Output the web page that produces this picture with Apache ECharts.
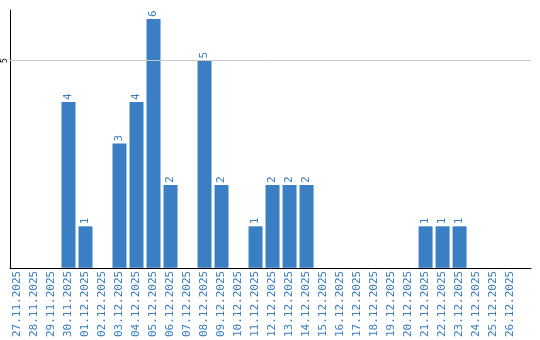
<!DOCTYPE html>
<html><head><meta charset="utf-8">
<script src="https://cdn.jsdelivr.net/npm/echarts@6/dist/echarts.min.js"></script>
<style>html,body{margin:0;padding:0;background:#fff}#c{width:540px;height:340px}</style>
</head><body><div id="c"></div>
<script>
const categories = ['27.11.2025','28.11.2025','29.11.2025','30.11.2025','01.12.2025','02.12.2025','03.12.2025','04.12.2025','05.12.2025','06.12.2025','07.12.2025','08.12.2025','09.12.2025','10.12.2025','11.12.2025','12.12.2025','13.12.2025','14.12.2025','15.12.2025','16.12.2025','17.12.2025','18.12.2025','19.12.2025','20.12.2025','21.12.2025','22.12.2025','23.12.2025','24.12.2025','25.12.2025','26.12.2025'];
const values = [0,0,0,4,1,0,3,4,6,2,0,5,2,0,1,2,2,2,0,0,0,0,0,0,1,1,1,0,0,0];
const yTicks = [5];

const BLUE = '#3a7ec3';
const chart = echarts.init(document.getElementById('c'), null, {renderer:'canvas'});
chart.setOption({
  animation:false,
  grid:{left:10, right:9, top:10, bottom:70, containLabel:false},
  xAxis:{
    type:'value', min:-0.44, max:30.2,
    axisLine:{show:true, onZero:false, lineStyle:{color:'#000', width:1}},
    axisTick:{show:false},
    splitLine:{show:false},
    axisLabel:{
      customValues: categories.map((c,i)=>i),
      formatter:(v)=>categories[Math.round(v)] || '',
      rotate:90, color:BLUE, fontFamily:'DejaVu Sans Mono', fontSize:11, margin:3
    }
  },
  yAxis:{
    type:'value', min:0, max:6.22,
    axisLine:{show:true, onZero:false, lineStyle:{color:'#000', width:1}},
    axisTick:{show:false},
    splitLine:{show:false},
    axisLabel:{
      customValues: yTicks,
      rotate:90, color:'#000', fontFamily:'DejaVu Sans Mono', fontSize:8, margin:1
    }
  },
  series:[{
    type:'line',
    data:[],
    markLine:{
      silent:true, symbol:['none','none'], label:{show:false},
      lineStyle:{color:'#c8c8c8', width:1, type:'solid'},
      data: yTicks.map(t=>({yAxis:t}))
    },
    z:1
  },{
    type:'bar',
    data: values.map((v,i)=>v>0?[i,v]:[i,null]),
    barWidth:14,
    itemStyle:{color:BLUE},
    label:{show:true, position:'top', rotate:90, align:'left', verticalAlign:'middle', distance:2,
      color:BLUE, fontFamily:'DejaVu Sans Mono', fontSize:11,
      formatter:(p)=>p.value[1]},
    z:3
  }]
});
</script></body></html>
